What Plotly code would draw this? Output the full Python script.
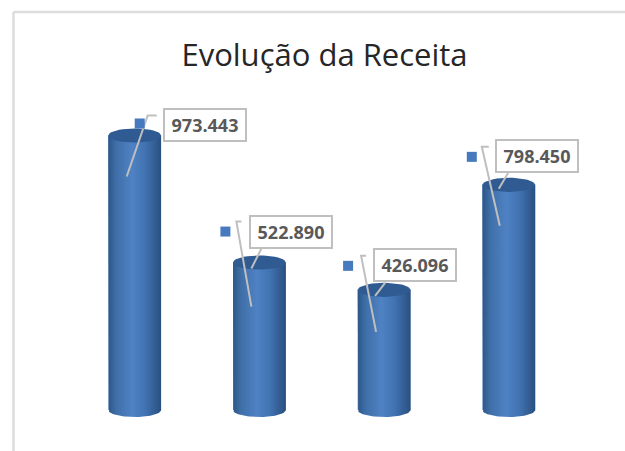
import plotly.graph_objects as go
import math

categories = [0, 1, 2, 3]
values = [973443, 522890, 426096, 798450]
labels = ["973.443", "522.890", "426.096", "798.450"]
title = "Evolução da Receita"

W, H = 625, 451
X0, DX = 134.7, 124.7       # px of first bar, px between bars
Y0, PPU = 410.0, 0.000282   # px of zero, px per unit
HALF_W = 0.2115             # half bar width, axis units
ELL = 25000                 # ellipse half-height, value units
# pixel offsets from the top of each bar (x right, y down)
box_dx = [70, 31.5, 30.5, 28.5]
box_dy = [-10.5, -31, -24.5, -29]
sq_dx = [5, -34, -36, -37]
sq_dy = [-12, -31, -24, -28]
leader = [[(-8, 41), (13, -20), (22, -20)],
          [(-8, 44), (-23, -41), (-18, -41)],
          [(-8, 42), (-23, -34), (-18, -34)],
          [(-9, 41), (-27, -38), (-20, -38)]]
stub = [None, [(2, -14), (-8, 6)], [(1, -7), (-9, 6)], [(0, -13), (-10, 4)]]

GRAD = [[0, "#2d5688"], [0.15, "#3f6fa8"], [0.45, "#4f82c4"], [0.7, "#4173b2"], [1, "#2a4f80"]]

fig = go.Figure()
fig.add_trace(go.Bar(x=categories, y=values, width=2 * HALF_W, marker=dict(color="#4472ad", line_width=0),
                     hoverinfo="skip", showlegend=False))


def arc(c, v, a0, a1, n=40):
    xs, ys = [], []
    for k in range(n + 1):
        a = a0 + (a1 - a0) * k / n
        xs.append(c + HALF_W * math.cos(a))
        ys.append(v + ELL * math.sin(a))
    return xs, ys


for c, v in zip(categories, values):
    bx, by = arc(c, 0, math.pi, 2 * math.pi)
    xs = [c - HALF_W] + bx + [c + HALF_W, c - HALF_W]
    ys = [v] + by + [v, v]
    fig.add_trace(go.Scatter(x=xs, y=ys, mode="lines", line=dict(width=0), fill="toself",
                             fillgradient=dict(type="horizontal", colorscale=GRAD),
                             hoverinfo="skip", showlegend=False))
    tx, ty = arc(c, v, 0, 2 * math.pi)
    fig.add_trace(go.Scatter(x=tx, y=ty, mode="lines", line=dict(width=0), fill="toself",
                             fillcolor="#2f5a92", hoverinfo="skip", showlegend=False))

shapes = [
    dict(type="line", xref="paper", yref="paper", x0=13.5 / W, x1=1, y0=1 - 12 / H, y1=1 - 12 / H,
         line=dict(color="#dcdcdc", width=2.5)),
    dict(type="line", xref="paper", yref="paper", x0=13.5 / W, x1=13.5 / W, y0=0, y1=1 - 12 / H,
         line=dict(color="#dcdcdc", width=2.5)),
]


def to_path(pts):
    # pixel-sized shape paths count y upward
    return "M " + " L ".join(f"{x} {-y}" for x, y in pts)


annotations = []
for i, (c, v, t) in enumerate(zip(categories, values, labels)):
    common = dict(xref="x", yref="y", xsizemode="pixel", ysizemode="pixel", xanchor=c, yanchor=v)
    shapes.append(dict(type="path", path=to_path(leader[i]), line=dict(color="#bfbfbf", width=2), **common))
    if stub[i]:
        shapes.append(dict(type="path", path=to_path(stub[i]), line=dict(color="#bfbfbf", width=2), **common))
    shapes.append(dict(type="rect", x0=sq_dx[i] - 5, x1=sq_dx[i] + 5, y0=-sq_dy[i] - 5, y1=-sq_dy[i] + 5,
                       fillcolor="#4679bd", line_width=0, **common))
    annotations.append(dict(x=c, y=v, xref="x", yref="y", text=f"<b>{t}</b>", showarrow=False,
                            xshift=box_dx[i], yshift=-box_dy[i], width=78, height=28,
                            bgcolor="white", bordercolor="#bfbfbf", borderwidth=2, borderpad=1,
                            font=dict(family="Open Sans", size=18, color="#595959")))

fig.update_layout(
    width=W, height=H, margin=dict(l=0, r=0, t=0, b=0),
    paper_bgcolor="white", plot_bgcolor="white", showlegend=False, barmode="overlay",
    title=dict(text=title, x=324.5 / W, xanchor="center", y=1 - 55 / H, yanchor="middle",
               font=dict(family="Open Sans", size=31, color="#262626")),
    xaxis=dict(range=[-X0 / DX, (W - X0) / DX], visible=False),
    yaxis=dict(range=[(Y0 - H) / PPU, Y0 / PPU], visible=False),
    shapes=shapes, annotations=annotations,
)
fig.write_html("out.html", config={"displayModeBar": False}, post_script="document.body.style.margin='0';")
